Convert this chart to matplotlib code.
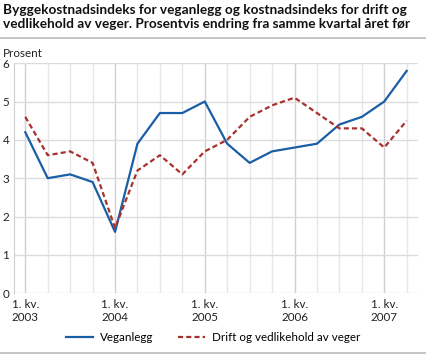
import matplotlib
matplotlib.use("Agg")
import matplotlib.pyplot as plt
from matplotlib.lines import Line2D

plt.rcParams["font.family"] = ["Lato", "DejaVu Sans"]

quarters = list(range(18))
year_ticks = [0, 4, 8, 12, 16]
year_labels = ["1. kv.\n2003", "1. kv.\n2004", "1. kv.\n2005", "1. kv.\n2006", "1. kv.\n2007"]

veganlegg = [4.2, 3.0, 3.1, 2.9, 1.6, 3.9, 4.7, 4.7, 5.0, 3.9, 3.4, 3.7, 3.8, 3.9, 4.4, 4.6, 5.0, 5.8]
drift = [4.6, 3.6, 3.7, 3.4, 1.7, 3.2, 3.6, 3.1, 3.7, 4.0, 4.6, 4.9, 5.1, 4.7, 4.3, 4.3, 3.8, 4.5]

title = ("Byggekostnadsindeks for veganlegg og kostnadsindeks for drift og\n"
         "vedlikehold av veger. Prosentvis endring fra samme kvartal året før")

blue = "#1a5ea6"
red = "#a8312e"
fs = 8.4

fig = plt.figure(figsize=(4.26, 3.55), dpi=100)
ax = fig.add_axes([0.033, 0.174, 0.948, 0.648])

# grid
for q in quarters:
    c = "#cfcfd4" if q in year_ticks else "#e6e6e9"
    ax.axvline(q, color=c, lw=1.0, zorder=0)
for y in range(0, 7):
    ax.axhline(y, color="#dcdcdf", lw=1.0, zorder=0)

ax.plot(quarters, veganlegg, color=blue, lw=1.6, label="Veganlegg", zorder=3)
ax.plot(quarters, drift, color=red, lw=1.6, ls=(0, (2.3, 1.4)),
        label="Drift og vedlikehold av veger", zorder=3)

ax.set_xlim(-0.5, 17.5)
ax.set_ylim(0, 6)
ax.set_xticks(year_ticks)
ax.set_xticklabels(year_labels, fontsize=fs, color="#222222", linespacing=1.25)
ax.set_yticks(range(0, 7))
ax.set_yticklabels([str(v) for v in range(0, 7)], fontsize=fs, color="#222222")
ax.tick_params(length=0, pad=4)
ax.tick_params(axis="y", pad=3.5)
for s in ["top", "right", "bottom"]:
    ax.spines[s].set_visible(False)
ax.spines["left"].set_color("#cfcfd4")

fig.text(0.007, 0.84, "Prosent", fontsize=fs, color="#222222")
fig.text(0.007, 0.99, title, fontsize=9.8, fontweight="bold", va="top",
         color="#111111", linespacing=1.2)
fig.add_artist(Line2D([0, 1], [0.893, 0.893], color="#bbbbbb", lw=1.2))
fig.add_artist(Line2D([0, 1], [0.007, 0.007], color="#bbbbbb", lw=1.2))

fig.legend(loc="center", bbox_to_anchor=(0.5, 0.048), ncol=2, frameon=False,
           fontsize=fs, handlelength=2.3, columnspacing=2.1, handletextpad=0.6)

fig.savefig("out.png", dpi=100)
